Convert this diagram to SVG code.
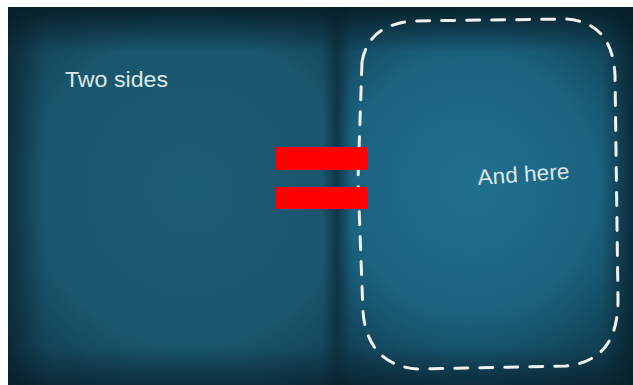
<svg xmlns="http://www.w3.org/2000/svg" width="633" height="385" viewBox="0 0 633 385">
<defs>
<radialGradient id="lp" cx="190" cy="190" r="260" gradientUnits="userSpaceOnUse">
<stop offset="0" stop-color="#1d5d74"/><stop offset="0.6" stop-color="#1a566d"/><stop offset="1" stop-color="#0e3546"/>
</radialGradient>
<radialGradient id="rp" cx="470" cy="185" r="230" gradientUnits="userSpaceOnUse">
<stop offset="0" stop-color="#20708e"/><stop offset="0.55" stop-color="#1b6380"/><stop offset="1" stop-color="#0e3647"/>
</radialGradient>
<linearGradient id="gut" x1="0" x2="1" y1="0" y2="0">
<stop offset="0" stop-color="#0c2e3d" stop-opacity="0"/><stop offset="0.5" stop-color="#0c2e3d" stop-opacity="0.8"/><stop offset="1" stop-color="#0c2e3d" stop-opacity="0"/>
</linearGradient>
<linearGradient id="topv" x1="0" x2="0" y1="0" y2="1">
<stop offset="0" stop-color="#071e28" stop-opacity="0.9"/><stop offset="0.12" stop-color="#071e28" stop-opacity="0"/><stop offset="0.9" stop-color="#071e28" stop-opacity="0"/><stop offset="1" stop-color="#071e28" stop-opacity="0.6"/>
</linearGradient>
<linearGradient id="sidev" x1="0" x2="1" y1="0" y2="0">
<stop offset="0" stop-color="#071e28" stop-opacity="0.6"/><stop offset="0.06" stop-color="#071e28" stop-opacity="0"/><stop offset="0.95" stop-color="#071e28" stop-opacity="0"/><stop offset="1" stop-color="#071e28" stop-opacity="0.7"/>
</linearGradient>
<style>
.dash{fill:none;stroke:#eef2f2;stroke-width:3;stroke-linecap:round;stroke-dasharray:13 12}
.hand{font-family:"Liberation Sans","DejaVu Sans",sans-serif;fill:#dbe8ea;font-size:22px}
.bar{fill:#ff0000}
</style>
</defs>
<rect width="633" height="385" fill="#ffffff"/>
<g id="book">
<rect x="8" y="7" width="625" height="378" fill="#123f52"/>
<rect x="8" y="7" width="330" height="378" fill="url(#lp)"/>
<rect x="336" y="7" width="297" height="378" fill="url(#rp)"/>
<rect x="322" y="7" width="30" height="378" fill="url(#gut)"/>
<rect x="8" y="7" width="625" height="378" fill="url(#topv)"/>
<rect x="8" y="7" width="625" height="378" fill="url(#sidev)"/>
</g>
<g id="frame">
<path class="dash" d="M 362 62 C 366 38 382 24 412 21 L 565 19 C 598 21 613 40 615 75 L 618 300 C 618 340 602 362 566 366 L 420 369 C 386 368 366 348 363 312 L 358 180 Z"/>
</g>
<g id="label-left"><text class="hand" x="65" y="87" textLength="103" lengthAdjust="spacingAndGlyphs">Two sides</text></g>
<g id="label-right"><text class="hand" x="478" y="185" textLength="92" lengthAdjust="spacingAndGlyphs" transform="rotate(-4 478 185)">And here</text></g>
<g id="equals">
<rect class="bar" x="276" y="147" width="91" height="23"/>
<rect class="bar" x="276" y="187" width="91" height="22"/>
</g>
</svg>
